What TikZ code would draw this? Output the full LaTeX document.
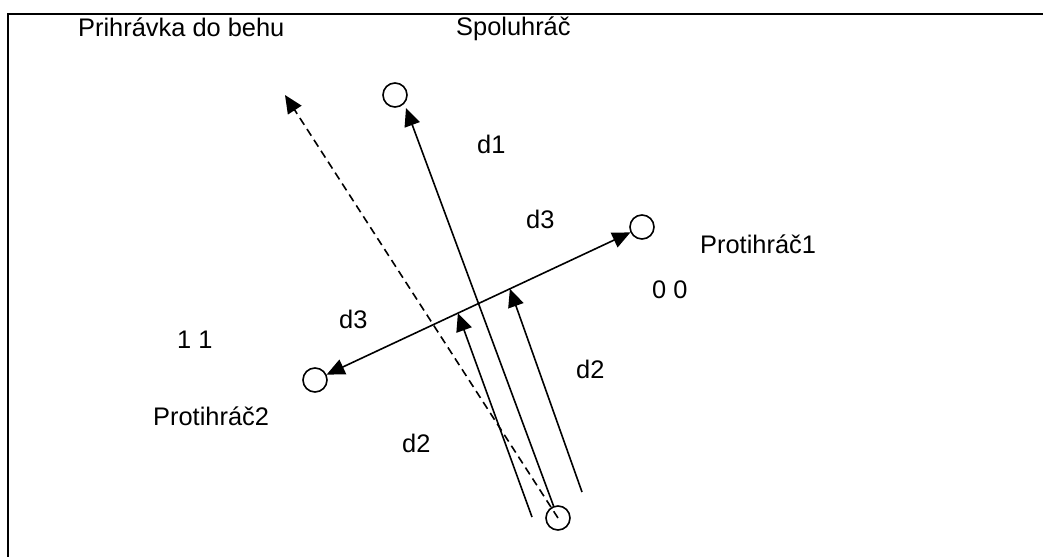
\documentclass[tikz,border=0pt]{standalone}
\usepackage{fontspec}
\setmainfont{Liberation Sans}
\usetikzlibrary{arrows.meta,calc}

\begin{document}
\begin{tikzpicture}[x=1pt,y=-1pt,
  player/.style={circle,draw,line width=1.6pt,minimum size=24pt,inner sep=0pt},
  lbl/.style={anchor=base west,inner sep=0pt,font=\fontsize{25.4}{30}\selectfont},
  pass/.style={line width=1.6pt,-{Triangle[length=18pt,width=16pt]}},
  cover/.style={line width=1.6pt,{Triangle[length=18pt,width=16pt]}-{Triangle[length=18pt,width=16pt]}},
  runpass/.style={line width=1.6pt,dash pattern=on 8pt off 5pt,-{Triangle[length=18pt,width=16pt]}}]
\useasboundingbox (0,0) rectangle (1043,557);

% frame (only its top and left sides fall inside the page)
\draw[line width=2pt] (1043,14) -- (8,14) -- (8,557);

% players
\node[player] (spolu) at (395,95) {};
\node[player] (prot1) at (642,227) {};
\node[player] (prot2) at (315,380) {};
\node[player] (ball)  at (558,518) {};

% free ends of the connectors
\coordinate (runtip) at (285,95);
\coordinate (d1tip)  at (406,108);
\coordinate (aL) at (532,517);
\coordinate (aR) at (582,492);
\coordinate (hitL) at ($(prot2.center)!0.437!(prot1.center)$);
\coordinate (hitR) at ($(prot2.center)!0.596!(prot1.center)$);

% connectors
\draw[runpass] (ball.center) -- (runtip);
\draw[pass] (ball) -- (d1tip);
\draw[cover] (prot2) -- (prot1);
\draw[pass] (aL) -- (hitL);
\draw[pass] (aR) -- (hitR);

% labels
\node[lbl] (t1)  at (78,36)   {Prihrávka do behu};
\node[lbl] (t2)  at (456,35)  {Spoluhráč};
\node[lbl] (t3)  at (477,153) {d1};
\node[lbl] (t4)  at (526,228) {d3};
\node[lbl] (t5)  at (700,253) {Protihráč1};
\node[lbl] (t6)  at (652,298) {0 0};
\node[lbl] (t7)  at (339,328) {d3};
\node[lbl] (t8)  at (177,348) {1 1};
\node[lbl] (t9)  at (576,378) {d2};
\node[lbl] (t10) at (153,425) {Protihráč2};
\node[lbl] (t11) at (402,452) {d2};
\end{tikzpicture}
\end{document}
